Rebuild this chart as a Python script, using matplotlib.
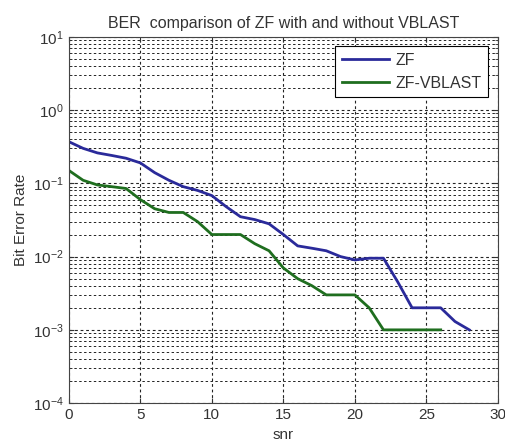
import numpy as np
import matplotlib
matplotlib.use("Agg")
import matplotlib.pyplot as plt
from matplotlib.ticker import LogLocator, NullFormatter

plt.rcParams['font.family'] = ['Liberation Sans', 'DejaVu Sans']

# BER values
snr_zf = np.arange(0, 29)
ber_zf = [0.37, 0.30, 0.26, 0.24, 0.22, 0.19, 0.14, 0.11, 0.09, 0.08,
          0.068, 0.048, 0.035, 0.032, 0.028, 0.02, 0.014, 0.013, 0.012, 0.010,
          0.009, 0.0095, 0.0095, 0.0045, 0.002, 0.002, 0.002, 0.0013, 0.001]

snr_vb = np.arange(0, 27)
ber_vb = [0.15, 0.11, 0.095, 0.09, 0.085, 0.06, 0.045, 0.04, 0.04, 0.03,
          0.02, 0.02, 0.02, 0.015, 0.012, 0.007, 0.005, 0.004, 0.003, 0.003,
          0.003, 0.002, 0.001, 0.001, 0.001, 0.001, 0.001]

fig = plt.figure(figsize=(5.06, 4.43), dpi=100)
ax = fig.add_axes([0.136, 0.090, 0.848, 0.827])

ax.semilogy(snr_zf, ber_zf, color='#2a2a9a', lw=2, label='ZF')
ax.semilogy(snr_vb, ber_vb, color='#1f6e1f', lw=2, label='ZF-VBLAST')

ax.set_xlim(0, 30)
ax.set_ylim(1e-4, 1e1)
ax.set_xticks(np.arange(0, 31, 5))
ax.yaxis.set_major_locator(LogLocator(base=10, numticks=10))
ax.yaxis.set_minor_locator(LogLocator(base=10, subs=np.arange(2, 10), numticks=20))
ax.yaxis.set_minor_formatter(NullFormatter())

ax.grid(True, which='major', color='#222222', ls=(0, (2.5, 2.5)), lw=0.8)
ax.grid(True, which='minor', axis='y', color='#222222', ls=(0, (2.5, 2.5)), lw=0.7)

ax.tick_params(which='both', direction='in', top=True, right=True,
               labelsize=11, colors='#333333')
for s in ax.spines.values():
    s.set_color('#444444')

ax.set_title('BER  comparison of ZF with and without VBLAST', fontsize=11.5, color='#333333')
ax.set_xlabel('snr', fontsize=11, color='#333333')
ax.set_ylabel('Bit Error Rate', fontsize=11, color='#333333')

leg = ax.legend(loc='upper right', fontsize=11.5, fancybox=False, framealpha=1,
                edgecolor='black', handlelength=3.0, handletextpad=0.4,
                borderaxespad=0.6)
leg.get_frame().set_linewidth(0.8)
for t in leg.get_texts():
    t.set_color('#333333')

fig.savefig('out.png', dpi=100)
